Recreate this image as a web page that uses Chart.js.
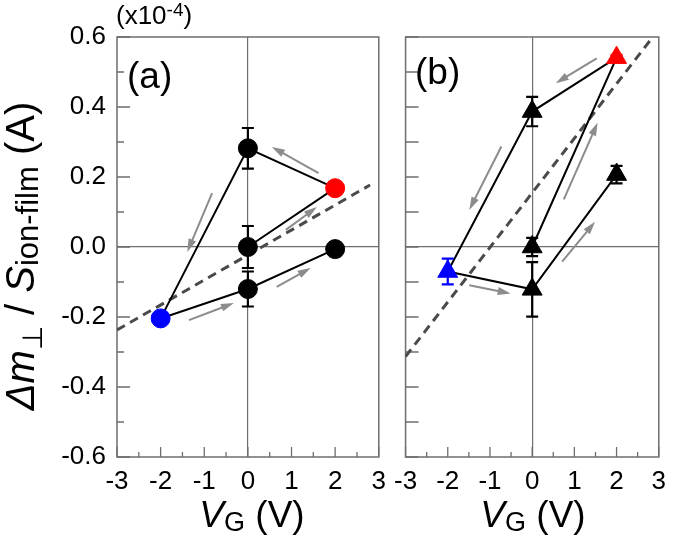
<!DOCTYPE html>
<html>
<head>
<meta charset="utf-8">
<script src="https://cdn.jsdelivr.net/npm/chart.js@4.4.0/dist/chart.umd.min.js"></script>
<style>
body { margin: 0; background: #fff; }
#wrap { position: relative; width: 675px; height: 546px; font-family: "Liberation Sans", Arial, sans-serif; color: #000; overflow: hidden; }
canvas { position: absolute; top: 0; }
.lbl { position: absolute; white-space: nowrap; }
</style>
</head>
<body>
<div id="wrap">
  <canvas id="chartA" width="395" height="546" style="left:0px"></canvas>
  <canvas id="chartB" width="290" height="546" style="left:385px"></canvas>

  <div class="lbl" style="left:116px; top:2px; font-size:26px; line-height:26px;">(x10<span style="font-size:19px; position:relative; top:-8px;">-4</span>)</div>
  <div class="lbl" style="left:127px; top:57px; font-size:37px; line-height:37px;">(a)</div>
  <div class="lbl" style="left:415px; top:53px; font-size:37px; line-height:37px;">(b)</div>

  <div class="lbl" style="left:-180px; top:236px; width:400px; height:40px; font-size:40px; line-height:40px; text-align:center; transform:rotate(-90deg);"><i>Δm</i><span style="font-size:28px; position:relative; top:8px;">⊥</span> / <i>S</i><span style="font-size:31px; position:relative; top:4px;">ion-film</span> (A)</div>

  <div class="lbl" style="left:152px; top:496px; width:200px; font-size:37px; line-height:37px; text-align:center;"><i>V</i><span style="font-size:27px; position:relative; top:4px;">G</span> (V)</div>
  <div class="lbl" style="left:433px; top:496px; width:200px; font-size:37px; line-height:37px; text-align:center;"><i>V</i><span style="font-size:27px; position:relative; top:4px;">G</span> (V)</div>
</div>

<script>
// panel (a) - gate voltage sequence and moment change (x10^-4 A)
var vgA = [0, 2, 0, -2, 0, 2];
var mA = [0.0, 0.168, 0.282, -0.204, -0.12, -0.006];
var errA = [0.06, 0.015, 0.058, 0.01, 0.05, 0.02];
var colorA = ['#000000', '#ff0000', '#000000', '#0000ff', '#000000', '#000000'];
var fitXA = [-3, 2.8];
var fitYA = [-0.237, 0.177];
var arrowsA = [
  [1.62, 0.211, 0.55, 0.286],
  [-0.82, 0.154, -1.39, -0.014],
  [0.87, 0.049, 1.58, 0.114],
  [0.66, -0.114, 1.44, -0.06],
  [-1.35, -0.209, -0.32, -0.16]
];

// panel (b)
var vgB = [0, 2, 0, -2, 0, 2];
var mB = [0.0, 0.541, 0.387, -0.07, -0.121, 0.207];
var errB = [0.026, 0.008, 0.042, 0.037, 0.078, 0.025];
var colorB = ['#000000', '#ff0000', '#000000', '#0000ff', '#000000', '#000000'];
var fitXB = [-3, 2.8];
var fitYB = [-0.313, 0.591];
var arrowsB = [
  [1.53, 0.539, 0.56, 0.468],
  [-0.73, 0.287, -1.49, 0.106],
  [0.75, 0.136, 1.55, 0.355],
  [0.71, -0.042, 1.49, 0.072],
  [-1.49, -0.109, -0.51, -0.133]
];

var xTicks = [-3, -2, -1, 0, 1, 2, 3];
var yTicks = [-0.6, -0.4, -0.2, 0.0, 0.2, 0.4, 0.6];

function pts(xs, ys) {
  return xs.map(function (x, i) { return { x: x, y: ys[i] }; });
}

// frame box + inward ticks
var framePlugin = {
  id: 'frame',
  beforeDatasetsDraw: function (chart, args, opts) {
    var ctx = chart.ctx, a = chart.chartArea;
    var xs = chart.scales.x, ys = chart.scales.y;
    ctx.save();
    ctx.strokeStyle = '#6e6e6e';
    ctx.lineWidth = 1.5;
    ctx.strokeRect(a.left, a.top, a.right - a.left, a.bottom - a.top);
    ctx.lineWidth = 1.3;
    ctx.beginPath();
    for (var v = -3; v <= 3.001; v += 0.5) {
      var px = xs.getPixelForValue(v);
      var len = Math.abs(v - Math.round(v)) < 0.01 ? 10 : 5;
      ctx.moveTo(px, a.bottom);
      ctx.lineTo(px, a.bottom - len);
    }
    for (var k = -6; k <= 6; k++) {
      var py = ys.getPixelForValue(k / 10);
      var ylen = (k % 2 === 0) ? 13 : opts.minorY;
      ctx.moveTo(a.left, py);
      ctx.lineTo(a.left + ylen, py);
    }
    ctx.stroke();
    ctx.restore();
  }
};

// gray direction arrows
var arrowPlugin = {
  id: 'arrows',
  beforeDatasetsDraw: function (chart, args, opts) {
    var ctx = chart.ctx;
    var xs = chart.scales.x, ys = chart.scales.y;
    ctx.save();
    ctx.strokeStyle = '#8c8c8c';
    ctx.fillStyle = '#8c8c8c';
    ctx.lineWidth = 2;
    opts.list.forEach(function (ar) {
      var x1 = xs.getPixelForValue(ar[0]), y1 = ys.getPixelForValue(ar[1]);
      var x2 = xs.getPixelForValue(ar[2]), y2 = ys.getPixelForValue(ar[3]);
      var ang = Math.atan2(y2 - y1, x2 - x1);
      var hl = 13, hw = 4;
      var c = Math.cos(ang), s = Math.sin(ang);
      ctx.beginPath();
      ctx.moveTo(x1, y1);
      ctx.lineTo(x2 - hl * 0.7 * c, y2 - hl * 0.7 * s);
      ctx.stroke();
      ctx.beginPath();
      ctx.moveTo(x2, y2);
      ctx.lineTo(x2 - hl * c + hw * s, y2 - hl * s - hw * c);
      ctx.lineTo(x2 - hl * c - hw * s, y2 - hl * s + hw * c);
      ctx.closePath();
      ctx.fill();
    });
    ctx.restore();
  }
};

// vertical error bars
var errorPlugin = {
  id: 'errbars',
  afterDatasetsDraw: function (chart) {
    var ctx = chart.ctx;
    var xs = chart.scales.x, ys = chart.scales.y;
    chart.data.datasets.forEach(function (ds) {
      if (!ds.err) return;
      ds.data.forEach(function (p, i) {
        var px = xs.getPixelForValue(p.x);
        var top = ys.getPixelForValue(p.y + ds.err[i]);
        var bot = ys.getPixelForValue(p.y - ds.err[i]);
        ctx.save();
        ctx.strokeStyle = ds.pointBackgroundColor[i];
        ctx.lineWidth = 2.2;
        ctx.beginPath();
        ctx.moveTo(px, top); ctx.lineTo(px, bot);
        ctx.moveTo(px - 6, top); ctx.lineTo(px + 6, top);
        ctx.moveTo(px - 6, bot); ctx.lineTo(px + 6, bot);
        ctx.stroke();
        ctx.restore();
      });
    });
  }
};

function makeChart(id, xs, ys, errs, colors, fitX, fitY, arrows, style, radius, yWidth, padRight, showY, minorY) {
  return new Chart(document.getElementById(id), {
    type: 'scatter',
    data: {
      datasets: [
        {
          data: pts(xs, ys),
          err: errs,
          showLine: true,
          borderColor: '#000000',
          borderWidth: 2,
          tension: 0,
          pointStyle: style,
          pointRadius: radius,
          pointBackgroundColor: colors,
          pointBorderColor: colors,
          pointBorderWidth: 1
        },
        {
          data: pts(fitX, fitY),
          showLine: true,
          borderColor: '#4a4a4a',
          borderWidth: 3,
          borderDash: [9, 6],
          pointRadius: 0
        }
      ]
    },
    options: {
      responsive: false,
      animation: false,
      layout: { padding: { top: 37, right: padRight, left: 0, bottom: 0 } },
      plugins: {
        legend: { display: false },
        tooltip: { enabled: false },
        arrows: { list: arrows },
        frame: { minorY: minorY }
      },
      scales: {
        x: {
          type: 'linear',
          min: -3,
          max: 3,
          afterBuildTicks: function (s) { s.ticks = xTicks.map(function (v) { return { value: v }; }); },
          afterFit: function (s) { s.height = 89; },
          grid: {
            drawTicks: false,
            color: function (c) { return (c.tick && Math.abs(c.tick.value) < 1e-9) ? '#6e6e6e' : 'rgba(0,0,0,0)'; },
            lineWidth: 1.2
          },
          border: { display: false },
          ticks: {
            autoSkip: false,
            maxRotation: 0,
            padding: 9,
            color: '#000',
            font: { family: 'Liberation Sans', size: 26 },
            callback: function (v) { return String(v); }
          }
        },
        y: {
          type: 'linear',
          min: -0.6,
          max: 0.6,
          afterBuildTicks: function (s) { s.ticks = yTicks.map(function (v) { return { value: v }; }); },
          afterFit: function (s) { s.width = yWidth; },
          grid: {
            drawTicks: false,
            color: function (c) { return (c.tick && Math.abs(c.tick.value) < 1e-9) ? '#6e6e6e' : 'rgba(0,0,0,0)'; },
            lineWidth: 1.2
          },
          border: { display: false },
          ticks: {
            display: showY,
            padding: 11,
            color: '#000',
            font: { family: 'Liberation Sans', size: 26 },
            callback: function (v) { return Math.abs(v) < 1e-9 ? '0.0' : v.toFixed(1); }
          }
        }
      }
    },
    plugins: [framePlugin, arrowPlugin, errorPlugin]
  });
}

var chartA = makeChart('chartA', vgA, mA, errA, colorA, fitXA, fitYA, arrowsA, 'circle', 9.5, 117, 15, true, 7);
var chartB = makeChart('chartB', vgB, mB, errB, colorB, fitXB, fitYB, arrowsB, 'triangle', 11.5, 19, 8, false, 13);
</script>
</body>
</html>
